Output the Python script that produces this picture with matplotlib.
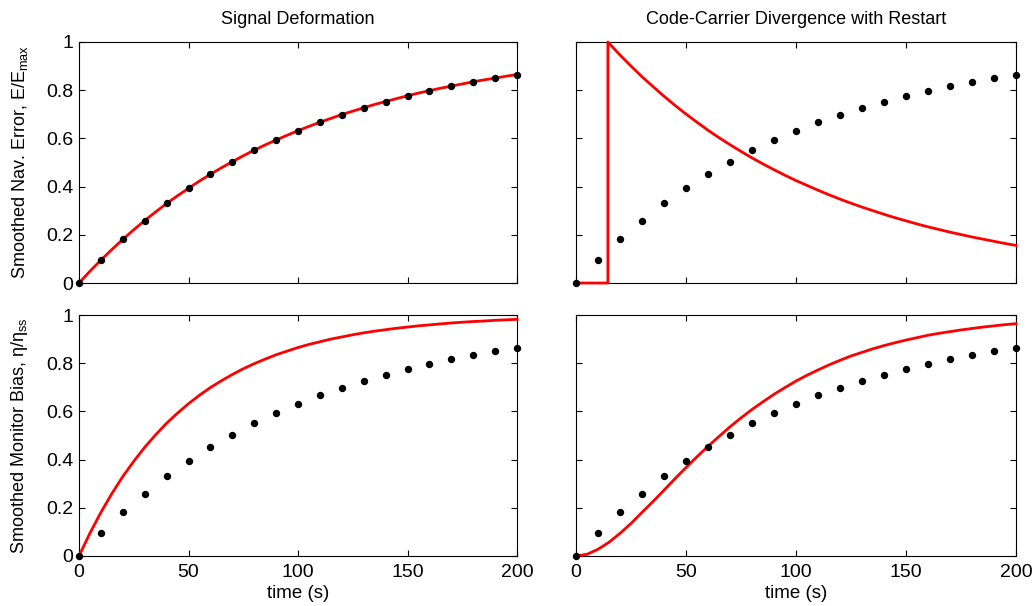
import numpy as np
import matplotlib
matplotlib.use("Agg")
import matplotlib.pyplot as plt

plt.rcParams["font.family"] = ["Liberation Sans", "DejaVu Sans"]
plt.rcParams["mathtext.fontset"] = "custom"
plt.rcParams["mathtext.rm"] = "Liberation Sans"
plt.rcParams["mathtext.it"] = "Liberation Sans"
plt.rcParams["font.size"] = 13

# -----------------------------------------
# data
# -----------------------------------------
# reference response, sampled every 10 s
t_dots = np.arange(0, 201, 10)
ref_dots = [0.0, 0.095, 0.181, 0.259, 0.330, 0.393, 0.451, 0.503, 0.551, 0.593, 0.632,
            0.667, 0.699, 0.727, 0.753, 0.777, 0.798, 0.817, 0.835, 0.850, 0.865]

# smoothed curves, sampled every 5 s
t_fine = np.arange(0, 201, 5)
sig_deform_err = [0.0, 0.049, 0.095, 0.139, 0.181, 0.221, 0.259, 0.295, 0.330, 0.362,
                  0.393, 0.423, 0.451, 0.478, 0.503, 0.528, 0.551, 0.573, 0.593, 0.613,
                  0.632, 0.650, 0.667, 0.683, 0.699, 0.713, 0.727, 0.741, 0.753, 0.765,
                  0.777, 0.788, 0.798, 0.808, 0.817, 0.826, 0.835, 0.843, 0.850, 0.858,
                  0.865]
sig_deform_bias = [0.0, 0.095, 0.181, 0.259, 0.330, 0.393, 0.451, 0.503, 0.551, 0.593,
                   0.632, 0.667, 0.699, 0.727, 0.753, 0.777, 0.798, 0.817, 0.835, 0.850,
                   0.865, 0.878, 0.889, 0.900, 0.909, 0.918, 0.926, 0.933, 0.939, 0.945,
                   0.950, 0.955, 0.959, 0.963, 0.967, 0.970, 0.973, 0.975, 0.978, 0.980,
                   0.982]
ccd_bias = [0.0, 0.007, 0.028, 0.057, 0.094, 0.135, 0.181, 0.226, 0.273, 0.321,
            0.367, 0.412, 0.455, 0.496, 0.536, 0.573, 0.608, 0.640, 0.671, 0.699,
            0.726, 0.750, 0.772, 0.793, 0.812, 0.830, 0.845, 0.860, 0.873, 0.885,
            0.896, 0.906, 0.916, 0.924, 0.931, 0.938, 0.944, 0.950, 0.955, 0.960,
            0.964]

# code-carrier divergence error: zero until restart, then decays
t_restart = [0, 14.5, 14.5, 15, 20, 25, 30, 35, 40, 45, 50, 55, 60, 65, 70, 75, 80, 85,
             90, 95, 100, 105, 110, 115, 120, 125, 130, 135, 140, 145, 150, 155, 160,
             165, 170, 175, 180, 185, 190, 195, 200]
ccd_err = [0.0, 0.0, 1.0, 0.995, 0.946, 0.900, 0.856, 0.815, 0.775, 0.737, 0.701, 0.667,
           0.634, 0.603, 0.574, 0.546, 0.519, 0.494, 0.470, 0.447, 0.425, 0.405, 0.385,
           0.366, 0.348, 0.331, 0.315, 0.300, 0.285, 0.271, 0.258, 0.245, 0.233, 0.222,
           0.211, 0.201, 0.191, 0.182, 0.173, 0.164, 0.156]

titles = ["Signal Deformation", "Code-Carrier Divergence with Restart"]
ylabels = [r"Smoothed Nav. Error, E/E$_{\mathrm{max}}$",
           r"Smoothed Monitor Bias, $\mathrm{\eta/\eta_{ss}}$"]

# -----------------------------------------
# plot
# -----------------------------------------
fig = plt.figure(figsize=(10.33, 6.06), dpi=100)

lefts = [79 / 1033, 576 / 1033]
widths = [438 / 1033, 440 / 1033]
bottoms = [1 - 283 / 606, 1 - 556 / 606]
height = 241 / 606

curves = [[(t_fine, sig_deform_err), (t_restart, ccd_err)],
          [(t_fine, sig_deform_bias), (t_fine, ccd_bias)]]

for row in range(2):
    for col in range(2):
        ax = fig.add_axes([lefts[col], bottoms[row], widths[col], height])
        tx, ty = curves[row][col]
        ax.plot(tx, ty, color="red", lw=2, clip_on=False, zorder=3)
        ax.plot(t_dots, ref_dots, "o", color="black", ms=4.3, clip_on=False, zorder=4)
        ax.set_xlim(0, 200)
        ax.set_ylim(0, 1)
        ax.set_xticks([0, 50, 100, 150, 200])
        ax.set_yticks([0, 0.2, 0.4, 0.6, 0.8, 1])
        ax.set_yticklabels(["0", "0.2", "0.4", "0.6", "0.8", "1"])
        ax.tick_params(direction="in", top=True, right=True, length=4, width=0.8,
                       labelsize=14)
        ax.tick_params(axis="x", pad=6)
        ax.tick_params(axis="y", pad=4)
        for s in ax.spines.values():
            s.set_linewidth(0.8)
        if row == 0:
            ax.set_title(titles[col], fontsize=13, pad=13)
            ax.tick_params(labelbottom=False)
        else:
            ax.set_xlabel("time (s)", fontsize=13.5, labelpad=3)
        if col == 1:
            ax.tick_params(labelleft=False)
        else:
            ax.set_ylabel(ylabels[row], fontsize=13, labelpad=12)

fig.savefig("out.png", dpi=100)
